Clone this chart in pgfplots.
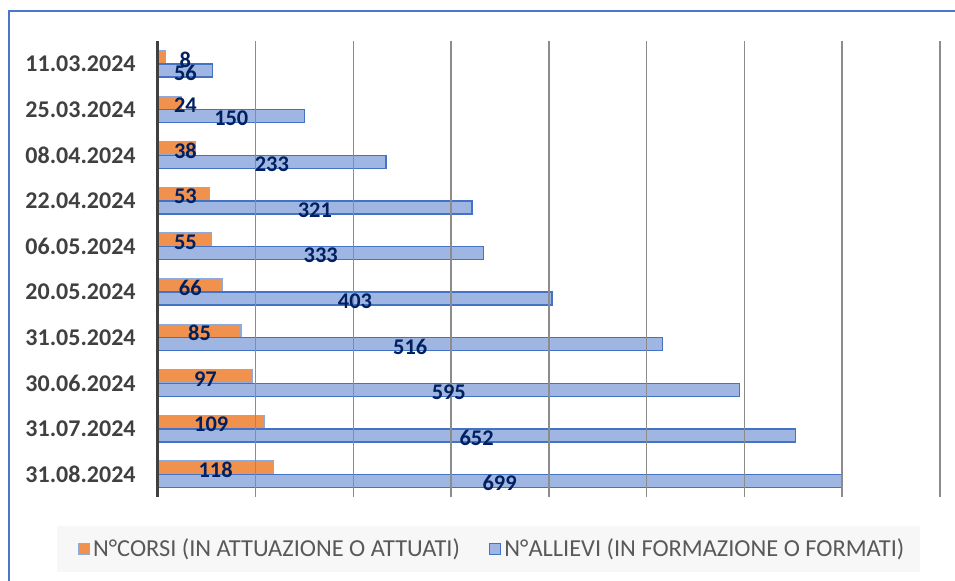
\documentclass[border=0pt]{standalone}
\usepackage{pgfplots}
\pgfplotsset{compat=1.18}
\usepackage{fontspec}
\setmainfont{Carlito}
\definecolor{barorange}{HTML}{F0914D}
\definecolor{orangeedge}{HTML}{8EA9DB}
\definecolor{barblue}{HTML}{A0B6E2}
\definecolor{blueedge}{HTML}{4472C4}
\definecolor{labelnavy}{HTML}{002060}
\definecolor{catgray}{HTML}{404040}
\definecolor{leggray}{HTML}{595959}
\definecolor{gridgray}{HTML}{8C8C8C}
\definecolor{framblue}{HTML}{4A78C8}
\definecolor{legbg}{HTML}{F7F7F7}
\begin{document}
\begin{tikzpicture}
\path[use as bounding box] (0,0) rectangle (477.5pt,290pt);
\draw[framblue, line width=1.2pt] (4.5pt,-1pt) -- (4.5pt,284.5pt) -- (480pt,284.5pt);
\fill[legbg] (28.5pt,4pt) rectangle (460pt,27pt);
\begin{axis}[
  at={(79pt,41.5pt)}, anchor=south west,
  scale only axis, width=391pt, height=228pt,
  xmin=0, xmax=800, ymin=-0.5, ymax=9.5,
  y dir=reverse,
  axis on top,
  axis lines*=left,
  x axis line style={draw=none},
  y axis line style={draw=catgray, line width=1.5pt},
  xtick={0,100,...,800}, xticklabels={},
  xmajorgrids, grid style={draw=gridgray, line width=0.75pt},
  ytick={0,...,9},
  yticklabels={11.03.2024,25.03.2024,08.04.2024,22.04.2024,06.05.2024,20.05.2024,31.05.2024,30.06.2024,31.07.2024,31.08.2024},
  yticklabel style={font=\fontsize{12}{14}\selectfont\bfseries, text=catgray, anchor=east, inner sep=0pt, xshift=-11pt},
  major tick length=0pt,
  /pgf/number format/assume math mode=true,
  bar width=0.285,
  point meta=x,
  visualization depends on={x \as \rawx},
  nodes near coords={\pgfmathprintnumber[assume math mode=true]{\pgfplotspointmeta}},
  nodes near coords style={anchor=center, font=\fontsize{11.2}{13}\selectfont\bfseries, text=labelnavy},
  legend columns=2,
  legend style={at={(0.428,-0.114)}, anchor=center, draw=none, fill=none,
     nodes={inner sep=1.5pt, text=leggray, font=\fontsize{12.2}{14}\selectfont},
     /tikz/every even column/.append style={column sep=13pt}},
  legend image code/.code={\draw[#1] (0pt,-2.75pt) rectangle (5.5pt,2.75pt);},
]
\addplot[xbar, bar shift=-0.148, fill=barorange, draw=orangeedge, line width=0.6pt,
  nodes near coords style={shift={(axis direction cs:{max(\rawx/2,28)-\rawx},-0.148)}, yshift=-1.2pt}]
  coordinates {(8,0) (24,1) (38,2) (53,3) (55,4) (66,5) (85,6) (97,7) (109,8) (118,9)};
\addlegendentry{N°CORSI (IN ATTUAZIONE O ATTUATI)}
\addplot[xbar, bar shift=0.148, fill=barblue, draw=blueedge, line width=0.75pt,
  nodes near coords style={shift={(axis direction cs:{max(\rawx/2,28)-\rawx},0.148)}, yshift=-1.2pt}]
  coordinates {(56,0) (150,1) (233,2) (321,3) (333,4) (403,5) (516,6) (595,7) (652,8) (699,9)};
\addlegendentry{N°ALLIEVI (IN FORMAZIONE O FORMATI)}
\end{axis}
\end{tikzpicture}
\end{document}
